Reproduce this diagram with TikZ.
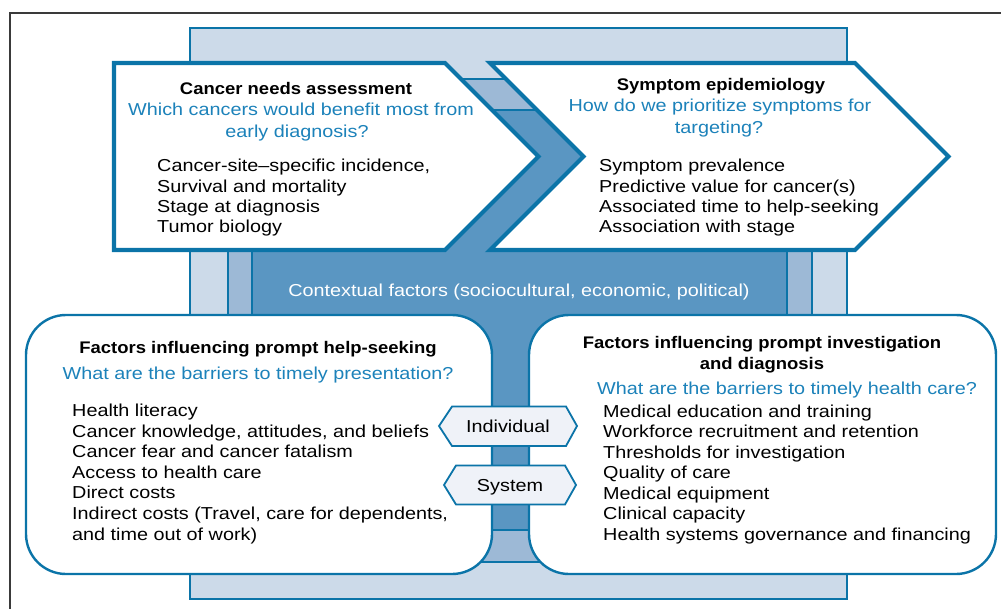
\documentclass[tikz,border=0pt]{standalone}
\usepackage{fontspec}
\setmainfont{Liberation Sans}[FakeStretch=1.145]
\newfontfamily\titlefont{Liberation Sans}[FakeStretch=1.1]
\definecolor{cborder}{RGB}{11,116,168}
\definecolor{ctext}{RGB}{28,130,186}
\definecolor{clight}{RGB}{204,218,233}
\definecolor{cmed}{RGB}{157,185,214}
\definecolor{cdark}{RGB}{90,150,194}
\definecolor{chex}{RGB}{239,242,248}
\definecolor{cframe}{RGB}{58,58,58}
\begin{document}
\begin{tikzpicture}[x=1pt,y=-1pt,
  layer/.style={draw=cborder,line width=1.2},
  chev/.style={fill=white,draw=cborder,line width=4.2,line join=miter},
  rbox/.style={draw=cborder,fill=white,line width=2.4,rounded corners=40,inner sep=0},
  hexa/.style={draw=cborder,fill=chex,line width=1.8,line join=miter},
  ttl/.style={font=\titlefont\bfseries\fontsize{16.8}{19}\selectfont,anchor=base,inner sep=0},
  ques/.style={text=ctext,font=\fontsize{17.3}{20}\selectfont,anchor=base,inner sep=0},
  item/.style={font=\fontsize{17.3}{20}\selectfont,anchor=base west,inner sep=0},
  lbl/.style={font=\fontsize{17.3}{20}\selectfont,anchor=base,inner sep=0}]
\useasboundingbox (0,0) rectangle (1001,609);
% outer frame
\draw[cframe,line width=1.5] (10,609) -- (10,13) -- (1001,13);
% background layers
\draw[layer,fill=clight,line width=1.5] (190,28) rectangle (847,599);
\draw[layer,fill=cmed] (228,79) rectangle (812,562);
\draw[layer,fill=cdark] (252,110) rectangle (787,530);
% chevrons
\draw[chev] (114,63) -- (445,63) -- (538.5,156.5) -- (445,250) -- (114,250) -- cycle;
\draw[chev] (490,63) -- (855,63) -- (948.5,156.5) -- (855,250) -- (490,250) -- (583.5,156.5) -- cycle;
% rounded boxes
\node[rbox,minimum width=466,minimum height=259] (lbox) at (259,444.5) {};
\node[rbox,minimum width=467,minimum height=259] (rbox) at (762.5,444.5) {};
% hexagons
\draw[hexa] (439,426) -- (452,406.5) -- (566,406.5) -- (577,426) -- (566,446) -- (452,446) -- cycle;
\draw[hexa] (444,485) -- (456,465.5) -- (565,465.5) -- (576,485) -- (565,504.5) -- (456,504.5) -- cycle;
\node[lbl] (ind) at (508,432) {Individual};
\node[lbl] (sys) at (510,491) {System};
% contextual
\node[lbl,text=white] (ctx) at (519,297) {Contextual factors (sociocultural, economic, political)};
% left chevron text
\node[ttl] (t1) at (296,94.5) {Cancer needs assessment};
\node[ques] (q1a) at (301,115.5) {Which cancers would benefit most from};
\node[ques] (q1b) at (297,138) {early diagnosis?};
\foreach \t [count=\i from 0] in {{Cancer-site–specific incidence,},{Survival and mortality},{Stage at diagnosis},{Tumor biology}}
  \node[item] (ca\i) at (157,171.7+20.4*\i) {\t};
% right chevron text
\node[ttl] (t2) at (721,90.8) {Symptom epidemiology};
\node[ques] (q2a) at (720,111.7) {How do we prioritize symptoms for};
\node[ques] (q2b) at (719,133.5) {targeting?};
\foreach \t [count=\i from 0] in {{Symptom prevalence},{Predictive value for cancer(s)},{Associated time to help-seeking},{Association with stage}}
  \node[item] (sy\i) at (599,171.7+20.4*\i) {\t};
% left box text
\node[ttl] (t3) at (258,353.3) {Factors influencing prompt help-seeking};
\node[ques] (q3) at (258,379) {What are the barriers to timely presentation?};
\foreach \t [count=\i from 0] in {{Health literacy},{Cancer knowledge, attitudes, and beliefs},{Cancer fear and cancer fatalism},{Access to health care},{Direct costs},{Indirect costs (Travel, care for dependents,},{and time out of work)}}
  \node[item] (hs\i) at (72,416.5+20.6*\i) {\t};
% right box text
\node[ttl] (t4) at (762,348.3) {Factors influencing prompt investigation};
\node[ttl] (t4b) at (762,369.3) {and diagnosis};
\node[ques] (q4) at (787,395) {What are the barriers to timely health care?};
\foreach \t [count=\i from 0] in {{Medical education and training},{Workforce recruitment and retention},{Thresholds for investigation},{Quality of care},{Medical equipment},{Clinical capacity},{Health systems governance and financing}}
  \node[item] (hc\i) at (603,417.3+20.5*\i) {\t};
\end{tikzpicture}
\end{document}
